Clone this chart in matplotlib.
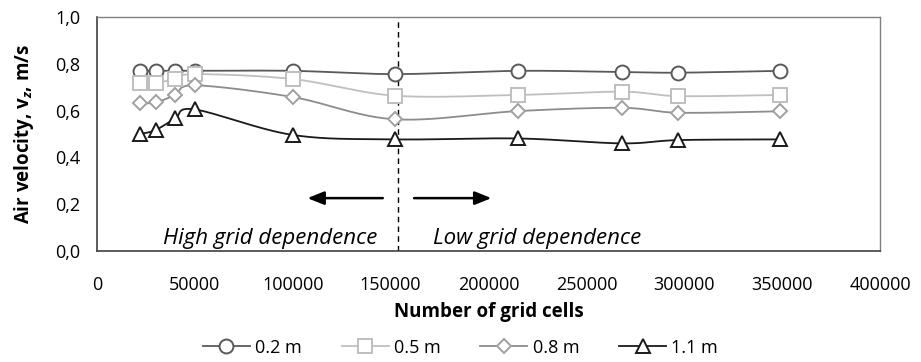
import numpy as np
import matplotlib
matplotlib.use("Agg")
import matplotlib.pyplot as plt
from matplotlib.lines import Line2D

plt.rcParams["font.family"] = ["Open Sans", "DejaVu Sans"]
plt.rcParams["mathtext.fontset"] = "custom"
plt.rcParams["mathtext.it"] = "Open Sans:italic:bold"
plt.rcParams["mathtext.rm"] = "Open Sans:bold"

cells = [22000, 30000, 40000, 50000, 100000, 152000, 215000, 268000, 297000, 349000]

v_02 = [0.77, 0.77, 0.77, 0.77, 0.77, 0.756, 0.77, 0.765, 0.762, 0.77]
v_05 = [0.72, 0.72, 0.734, 0.756, 0.735, 0.664, 0.667, 0.681, 0.662, 0.667]
v_08 = [0.631, 0.635, 0.667, 0.708, 0.658, 0.563, 0.598, 0.612, 0.591, 0.597]
v_11 = [0.50, 0.517, 0.567, 0.605, 0.496, 0.477, 0.481, 0.46, 0.474, 0.477]

labels = ["0.2 m", "0.5 m", "0.8 m", "1.1 m"]
colors = ["#595959", "#bfbfbf", "#8c8c8c", "#1a1a1a"]
edge_colors = ["#595959", "#bfbfbf", "#a0a0a0", "#1a1a1a"]
markers = ["o", "s", "D", "^"]
msizes = [10, 9.5, 7, 10]

split_x = 154000


def smooth(x, y, n=30):
    # bezier curve like the smoothed lines of a spreadsheet chart
    x = np.asarray(x, float)
    y = np.asarray(y, float)
    px = np.concatenate([[x[0]], x, [x[-1]]])
    py = np.concatenate([[y[0]], y, [y[-1]]])
    xs, ys = [], []
    t = np.linspace(0, 1, n)
    for i in range(len(x) - 1):
        p0 = np.array([x[i], y[i]])
        p3 = np.array([x[i + 1], y[i + 1]])
        p1 = p0 + (np.array([px[i + 2], py[i + 2]]) - np.array([px[i], py[i]])) / 6
        p2 = p3 - (np.array([px[i + 3], py[i + 3]]) - np.array([px[i + 1], py[i + 1]])) / 6
        b = ((1 - t) ** 3)[:, None] * p0 + (3 * (1 - t) ** 2 * t)[:, None] * p1 \
            + (3 * (1 - t) * t ** 2)[:, None] * p2 + (t ** 3)[:, None] * p3
        xs.extend(b[:, 0])
        ys.extend(b[:, 1])
    return xs, ys


fig = plt.figure(figsize=(9.21, 3.62), dpi=100)
ax = fig.add_axes([0.1053, 0.3066, 0.8502, 0.6464])

series = [v_02, v_05, v_08, v_11]
handles = []
for vals, lab, c, ec, m, ms in zip(series, labels, colors, edge_colors, markers, msizes):
    sx, sy = smooth(cells, vals)
    ax.plot(sx, sy, color=c, lw=1.3, zorder=2)
    ax.plot(cells, vals, ls="none", marker=m, ms=ms, mfc="white", mec=ec, mew=1.4, zorder=3)
    handles.append(Line2D([0], [0], color=c, lw=1.3, marker=m, ms=ms, mfc="white", mec=ec, mew=1.4))

ax.axvline(split_x, color="black", lw=1, ls=(0, (4, 3)), zorder=1)

arrow = dict(arrowstyle="-|>,head_length=1.0,head_width=0.4", color="black", lw=1.8,
             shrinkA=0, shrinkB=0)
ax.annotate("", xy=(107500, 0.226), xytext=(146000, 0.226), arrowprops=arrow)
ax.annotate("", xy=(201500, 0.226), xytext=(162000, 0.226), arrowprops=arrow)

ax.text(88700, 0.055, "High grid dependence", style="italic", fontsize=16, ha="center", va="center")
ax.text(225000, 0.055, "Low grid dependence", style="italic", fontsize=16, ha="center", va="center")

ax.set_xlim(0, 400000)
ax.set_ylim(0, 1.0)
ax.set_xticks(np.arange(0, 400001, 50000))
ax.set_xticklabels([str(v) for v in range(0, 400001, 50000)])
ax.set_yticks(np.arange(0, 1.01, 0.2))
ax.set_yticklabels([f"{v:.1f}".replace(".", ",") for v in np.arange(0, 1.01, 0.2)])
ax.tick_params(length=0, labelsize=13, colors="black")
ax.tick_params(axis="x", pad=18)
ax.tick_params(axis="y", pad=12)

for s in ["left", "bottom"]:
    ax.spines[s].set_color("#404040")
    ax.spines[s].set_linewidth(1.2)
for s in ["top", "right"]:
    ax.spines[s].set_color("#808080")
    ax.spines[s].set_linewidth(1.0)

ax.set_xlabel("Number of grid cells", fontweight="bold", fontsize=13.5, labelpad=6)
ax.set_ylabel(r"Air velocity, v$_{z}$, m/s", fontweight="bold", fontsize=13.5, labelpad=14)

fig.legend(handles, labels, loc="lower center", bbox_to_anchor=(0.5, -0.03), ncol=4,
           frameon=False, fontsize=13, handlelength=2.6, columnspacing=2.2, handletextpad=0.3)

fig.savefig("out.png", dpi=100)
